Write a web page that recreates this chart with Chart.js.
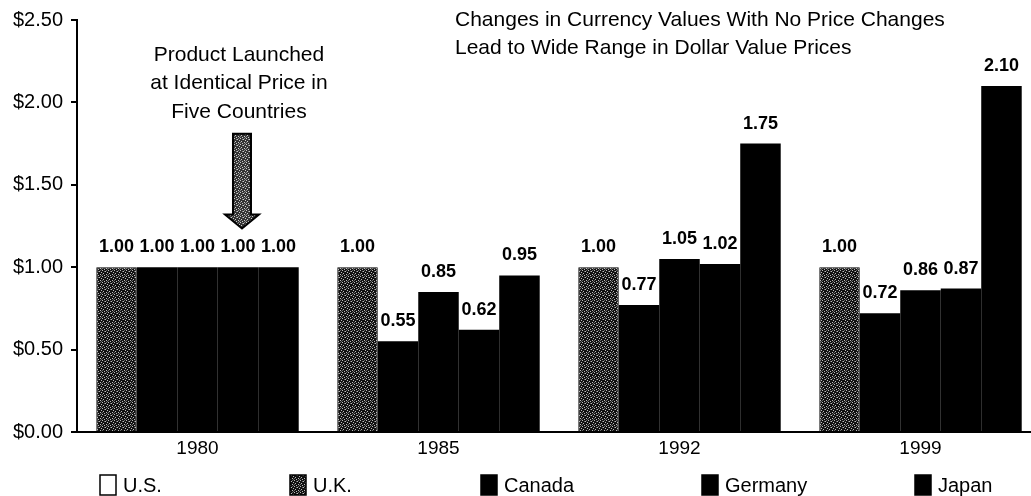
<!DOCTYPE html>
<html>
<head>
<meta charset="utf-8">
<script src="https://cdn.jsdelivr.net/npm/chart.js@4.4.1/dist/chart.umd.min.js"></script>
<style>
  html, body { margin: 0; padding: 0; background: #fff; overflow: hidden; }
  #wrap { position: relative; width: 1045px; height: 496px; }
</style>
</head>
<body>
<div id="wrap"><canvas id="chart" width="1045" height="496"></canvas></div>
<script>
// Categories and series
const years = ["1980", "1985", "1992", "1999"];
const countries = ["U.S.", "U.K.", "Canada", "Germany", "Japan"];
const usValues = [1.00, 1.00, 1.00, 1.00];
const ukValues = [1.00, 0.55, 0.77, 0.72];
const canadaValues = [1.00, 0.85, 1.05, 0.86];
const germanyValues = [1.00, 0.62, 1.02, 0.87];
const japanValues = [1.00, 0.95, 1.75, 2.10];
const yTicks = ["$0.00", "$0.50", "$1.00", "$1.50", "$2.00", "$2.50"];

const titleLines = [
  "Changes in Currency Values With No Price Changes",
  "Lead to Wide Range in Dollar Value Prices",
];
const noteLines = ["Product Launched", "at Identical Price in", "Five Countries"];

const FONT = "'Liberation Sans', Arial, sans-serif";

// Speckled fill, looks like the scanned grey shading
const makeSpeckle = (base, light, mid) => {
  const c = document.createElement("canvas");
  c.width = 6;
  c.height = 6;
  const g = c.getContext("2d");
  g.fillStyle = base;
  g.fillRect(0, 0, 6, 6);
  g.fillStyle = light;
  [[0, 0], [3, 1], [1, 3], [4, 4], [5, 2], [2, 5]].forEach(([x, y]) => g.fillRect(x, y, 1, 1));
  g.fillStyle = mid;
  [[2, 1], [5, 5], [0, 4], [4, 0]].forEach(([x, y]) => g.fillRect(x, y, 1, 1));
  return g.createPattern(c, "repeat");
};
const speckle = makeSpeckle("#111", "#bbb", "#666");
const arrowSpeckle = makeSpeckle("#333", "#ccc", "#888");

const barFills = [speckle, "#000", "#000", "#000", "#000"];
const legendFills = ["#fff", speckle, "#000", "#000", "#000"];
const legendX = [100, 290, 481, 702, 915];

const seriesValues = [usValues, ukValues, canadaValues, germanyValues, japanValues];

// Labels above bars, headline text, arrow, and the legend row
const extras = {
  id: "extras",
  afterDatasetsDraw(chart) {
    const ctx = chart.ctx;
    const y = chart.scales.y;
    ctx.save();

    // value labels
    ctx.fillStyle = "#000";
    ctx.font = "bold 18px " + FONT;
    ctx.textAlign = "center";
    ctx.textBaseline = "bottom";
    chart.data.datasets.forEach((ds, i) => {
      chart.getDatasetMeta(i).data.forEach((bar, j) => {
        ctx.fillText(ds.data[j].toFixed(2), bar.x, bar.y - 11);
      });
    });

    // headline
    ctx.font = "21px " + FONT;
    ctx.textAlign = "left";
    ctx.textBaseline = "middle";
    titleLines.forEach((t, i) => ctx.fillText(t, 455, 20 + i * 28));

    // launch note
    const noteX = chart.getDatasetMeta(3).data[0].x + 1;
    ctx.textAlign = "center";
    noteLines.forEach((t, i) => ctx.fillText(t, noteX, 55 + i * 28.5));

    // arrow pointing at the 1980 bars
    const ax = chart.getDatasetMeta(3).data[0].x + 4;
    const top = y.getPixelForValue(1.81);
    const neck = y.getPixelForValue(1.32);
    const tip = y.getPixelForValue(1.235);
    ctx.beginPath();
    ctx.moveTo(ax - 9, top);
    ctx.lineTo(ax + 9, top);
    ctx.lineTo(ax + 9, neck);
    ctx.lineTo(ax + 17, neck);
    ctx.lineTo(ax, tip);
    ctx.lineTo(ax - 17, neck);
    ctx.lineTo(ax - 9, neck);
    ctx.closePath();
    ctx.fillStyle = arrowSpeckle;
    ctx.fill();
    ctx.lineWidth = 2;
    ctx.strokeStyle = "#000";
    ctx.stroke();

    // legend
    ctx.font = "20px " + FONT;
    ctx.textAlign = "left";
    const ly = 485;
    countries.forEach((name, i) => {
      const lx = legendX[i];
      ctx.fillStyle = legendFills[i];
      ctx.fillRect(lx, ly - 10, 16, 20);
      ctx.lineWidth = 1.5;
      ctx.strokeStyle = "#000";
      ctx.strokeRect(lx, ly - 10, 16, 20);
      ctx.fillStyle = "#000";
      ctx.fillText(name, lx + 23, ly + 1);
    });

    ctx.restore();
  },
};

new Chart(document.getElementById("chart"), {
  type: "bar",
  plugins: [extras],
  data: {
    labels: years,
    datasets: countries.map((name, i) => ({
      label: name,
      data: seriesValues[i],
      backgroundColor: barFills[i],
      borderColor: "#000",
      borderWidth: i === 0 ? 1 : 0,
      categoryPercentage: 0.84,
      barPercentage: 1.0,
    })),
  },
  options: {
    responsive: false,
    animation: false,
    layout: { padding: { top: 18, right: 4, bottom: 40, left: 0 } },
    plugins: {
      legend: { display: false },
      tooltip: { enabled: false },
      title: { display: false },
    },
    scales: {
      x: {
        grid: { display: false, drawTicks: false },
        border: { display: true, color: "#000", width: 2 },
        ticks: { color: "#000", font: { family: FONT, size: 19 }, padding: 5 },
        afterFit(scale) { scale.height = 24; },
      },
      y: {
        min: 0,
        max: 2.5,
        grid: { drawOnChartArea: false, drawTicks: true, tickLength: 6, color: "#000", lineWidth: 2 },
        border: { display: true, color: "#000", width: 2 },
        ticks: {
          stepSize: 0.5,
          color: "#000",
          padding: 8,
          font: { family: FONT, size: 20 },
          callback: (v, i) => yTicks[i],
        },
        afterFit(scale) { scale.width = 77; },
      },
    },
  },
});
</script>
</body>
</html>
